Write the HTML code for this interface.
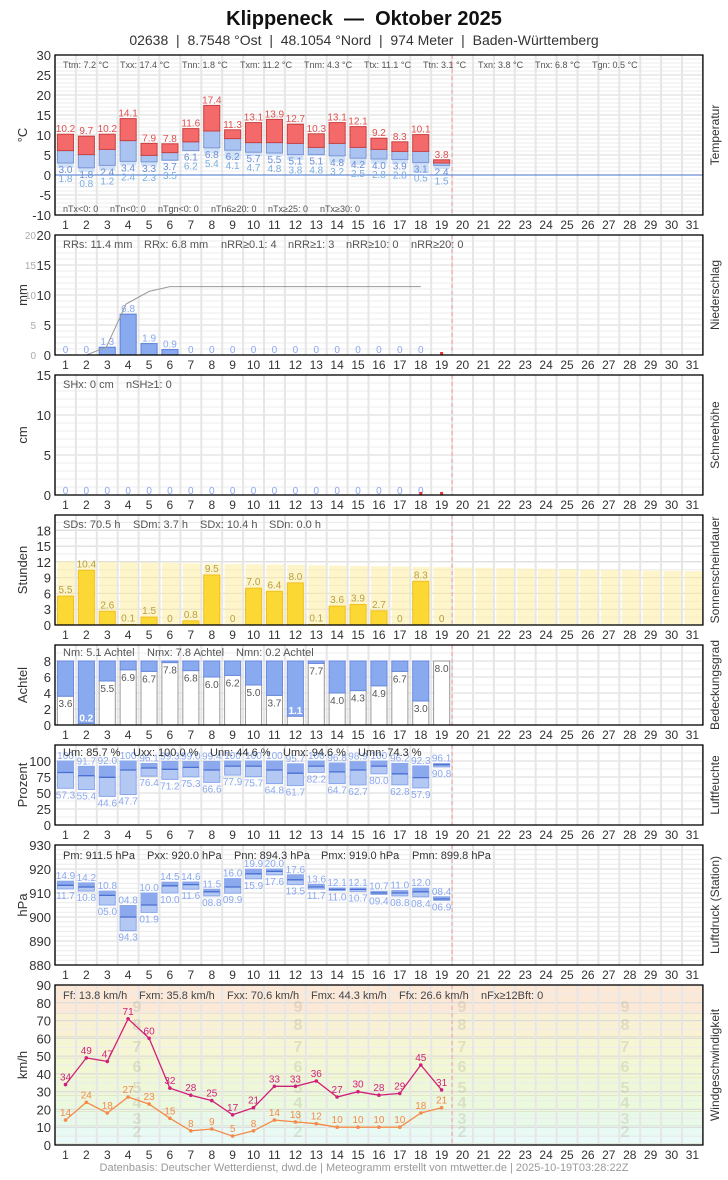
<!DOCTYPE html><html><head><meta charset="utf-8"><style>
body{margin:0;background:#fff;font-family:"Liberation Sans",sans-serif}
</style></head><body>
<svg id="s" width="728" height="1175" xmlns="http://www.w3.org/2000/svg" font-family="Liberation Sans, sans-serif">
<text x="364" y="25" text-anchor="middle" font-size="20" font-weight="bold" fill="#111" xml:space="preserve">Klippeneck &#160;— &#160;Oktober 2025</text>
<text x="364" y="45" text-anchor="middle" font-size="14" fill="#333" xml:space="preserve">02638 &#160;| &#160;8.7548 °Ost &#160;| &#160;48.1054 °Nord &#160;| &#160;974 Meter &#160;| &#160;Baden-Württemberg</text>
<text x="364" y="1171" text-anchor="middle" font-size="11" fill="#999">Datenbasis: Deutscher Wetterdienst, dwd.de | Meteogramm erstellt von mtwetter.de | 2025-10-19T03:28:22Z</text>
</svg>
<script>
var S=document.getElementById('s'),h='';
var L=55,W=20.9,R=L+31*W;
function cx(d){return L+(d-0.5)*W}
function bl(d){return L+(d-1)*W+2.4}
var BW=16.1;
function r(x,y,w,hh,f,st){if(hh<0){y+=hh;hh=-hh}h+='<rect x="'+x.toFixed(1)+'" y="'+y.toFixed(1)+'" width="'+w.toFixed(1)+'" height="'+Math.max(hh,0.5).toFixed(1)+'" fill="'+f+'"'+(st?' stroke="'+st+'" stroke-width="1"':'')+'/>'}
function t(x,y,s,sz,f,a,extra){h+='<text x="'+x.toFixed(1)+'" y="'+y.toFixed(1)+'" font-size="'+sz+'" fill="'+f+'" text-anchor="'+(a||'middle')+'"'+(extra||'')+'>'+s+'</text>'}
function ln(x1,y1,x2,y2,c,w,da){h+='<line x1="'+x1.toFixed(1)+'" y1="'+y1.toFixed(1)+'" x2="'+x2.toFixed(1)+'" y2="'+y2.toFixed(1)+'" stroke="'+c+'" stroke-width="'+(w||1)+'"'+(da?' stroke-dasharray="'+da+'"':'')+'/>'}
function panel(top,bot,ymin,ymax,ticks,minor,title,unit,daysY,bg){
  var f=function(v){return bot-(v-ymin)/(ymax-ymin)*(bot-top)};
  if(bg)bg(f);
  for(var v=ymin;v<=ymax+1e-9;v+=minor){var y=f(v);if(y>=top)ln(L,y,R,y,'#ececec',1)}
  ticks.forEach(function(v){var y=f(v);if(y>=top-0.5)ln(L,y,R,y,'#d8d8d8',1);t(51,y+5,v,13,'#333','end')});
  for(var d=0;d<=31;d++){ln(L+d*W,top,L+d*W,bot,'#e6e6e6',2)}
  ln(L+19*W,top,L+19*W,bot,'#f4a0a0',1,'4,3');
  t(0,0,title,12,'#333','middle',' transform="translate(719,'+((top+bot)/2)+') rotate(-90)"');
  t(0,0,unit,13,'#333','middle',' transform="translate(27,'+((top+bot)/2)+') rotate(-90)"');
  for(var d=1;d<=31;d++)t(cx(d),daysY,d,12,'#333');
  return f;
}
function frame(top,bot){h+='<rect x="'+L+'" y="'+top+'" width="'+(R-L)+'" height="'+(bot-top)+'" fill="none" stroke="#000" stroke-width="1.3"/>'}
// Temperature
var f=panel(55,215,-10,30,[30,25,20,15,10,5,0,-5,-10],1,'Temperatur','°C',229);
var Tx=[10.2,9.7,10.2,14.1,7.9,7.8,11.6,17.4,11.3,13.1,13.9,12.7,10.3,13.1,12.1,9.2,8.3,10.1,3.8];
var Tn=[3.0,1.8,2.4,3.4,3.3,3.7,6.1,6.8,6.2,5.7,5.5,5.1,5.1,4.8,4.2,4.0,3.9,3.1,2.4];
var Tg=[1.8,0.8,1.2,2.4,2.3,3.5,6.2,5.4,4.1,4.7,4.8,3.8,4.8,3.2,2.5,2.8,2.8,0.5,1.5];
var Tm=[6.1,5.1,6.4,8.6,4.9,5.6,8.3,11,9.1,8.1,8.1,7.9,6.9,7.9,6.9,6.4,5.9,5.9,3.0];
ln(L,f(0),R,f(0),'#6a8fd8',1.2);
for(var i=0;i<19;i++){var d=i+1,x=bl(d);
 r(x,f(Math.max(Tn[i],Tg[i])),BW,f(Math.min(Tn[i],Tg[i]))-f(Math.max(Tn[i],Tg[i])),'#cfe0f7');
 r(x,f(Tm[i]),BW,f(Tn[i])-f(Tm[i]),'#aac3f0','#7a98d8');
 r(x,f(Tx[i]),BW,f(Tm[i])-f(Tx[i]),'#f46a6a','#c94040');
 t(cx(d),f(Tx[i])-2,Tx[i].toFixed(1),10,'#e05050');
 t(cx(d),f(Tn[i])+10,Tn[i].toFixed(1),10,'#6a8fd8');
 t(cx(d),f(Tn[i])+19,Tg[i].toFixed(1),10,'#7aaee0');}
t(63,68,'Ttm: 7.2 °C',9,'#555','start');t(120,68,'Txx: 17.4 °C',9,'#555','start');t(182,68,'Tnn: 1.8 °C',9,'#555','start');t(240,68,'Txm: 11.2 °C',9,'#555','start');t(304,68,'Tnm: 4.3 °C',9,'#555','start');t(364,68,'Ttx: 11.1 °C',9,'#555','start');t(423,68,'Ttn: 3.1 °C',9,'#555','start');t(478,68,'Txn: 3.8 °C',9,'#555','start');t(535,68,'Tnx: 6.8 °C',9,'#555','start');t(592,68,'Tgn: 0.5 °C',9,'#555','start');
t(63,212,'nTx&lt;0: 0',9,'#555','start');t(110,212,'nTn&lt;0: 0',9,'#555','start');t(158,212,'nTgn&lt;0: 0',9,'#555','start');t(211,212,'nTn6≥20: 0',9,'#555','start');t(268,212,'nTx≥25: 0',9,'#555','start');t(320,212,'nTx≥30: 0',9,'#555','start');
frame(55,215);
// Precip
f=panel(235,355,0,20,[20,15,10,5,0],1,'Niederschlag','mm',369);
[20,15,10,5,0].forEach(function(v){t(36,f(v)+4,v,10,'#aaa','end')});
var P=[0,0,1.3,6.8,1.9,0.9,0,0,0,0,0,0,0,0,0,0,0,0];
for(var i=0;i<18;i++){var d=i+1;if(P[i]>0)r(bl(d),f(P[i]),BW,f(0)-f(P[i]),'#8aaaf0','#5a7fd8');t(cx(d),f(P[i])-2,P[i]>0?P[i].toFixed(1):'0',10,'#8aa8f0');}
h+='<polyline fill="none" stroke="#999" stroke-width="1" points="'+[[55,0],[cx(2),0],[cx(3)-1,1.3],[cx(4)-2,8.5],[cx(5),10.6],[cx(6),11.4],[cx(18),11.4]].map(function(p){return p[0].toFixed(1)+','+f(p[1]).toFixed(1)}).join(' ')+'"/>';
r(cx(19)-1.5,f(0)-3,3,3,'#e33');
t(63,248,'RRs: 11.4 mm',11,'#555','start');t(144,248,'RRx: 6.8 mm',11,'#555','start');t(221,248,'nRR≥0.1: 4',11,'#555','start');t(288,248,'nRR≥1: 3',11,'#555','start');t(346,248,'nRR≥10: 0',11,'#555','start');t(411,248,'nRR≥20: 0',11,'#555','start');
frame(235,355);
// Snow
f=panel(375,495,0,15,[15,10,5,0],1,'Schneehöhe','cm',509);
for(var d=1;d<=18;d++)t(cx(d),f(0)-1,'0',10,'#8aa8f0');
r(cx(18)-1.5,f(0)-3,3,3,'#e33');r(cx(19)-1.5,f(0)-3,3,3,'#e33');
t(63,388,'SHx: 0 cm',11,'#555','start');t(126,388,'nSH≥1: 0',11,'#555','start');
frame(375,495);
// Sunshine
f=panel(515,625,0,20.9,[18,15,12,9,6,3,0],1.5,'Sonnenscheindauer','Stunden',639);
var SD=[5.5,10.4,2.6,0.1,1.5,0,0.8,9.5,0,7.0,6.4,8.0,0.1,3.6,3.9,2.7,0,8.3,0];
for(var d=1;d<=31;d++){var p=12.1-(d-1)*0.062;r(bl(d),f(p),BW+1.5,f(0)-f(p),'rgba(253,236,160,0.55)')}
for(var i=0;i<19;i++){var d=i+1;if(SD[i]>0)r(bl(d),f(SD[i]),BW,f(0)-f(SD[i]),'#fcd835','#f0c020');t(cx(d),f(SD[i])-3,SD[i]>0?SD[i].toFixed(1):'0',10,'#b8a040');}
t(63,528,'SDs: 70.5 h',11,'#555','start');t(133,528,'SDm: 3.7 h',11,'#555','start');t(200,528,'SDx: 10.4 h',11,'#555','start');t(269,528,'SDn: 0.0 h',11,'#555','start');
frame(515,625);
// Cloud
f=panel(645,725,0,10,[8,6,4,2,0],1,'Bedeckungsgrad','Achtel',739);
var N=[3.6,0.2,5.5,6.9,6.7,7.8,6.8,6.0,6.2,5.0,3.7,1.1,7.7,4.0,4.3,4.9,6.7,3.0,8.0];
for(var i=0;i<19;i++){var d=i+1;r(bl(d),f(N[i]),BW,f(0)-f(N[i]),'#fff','#999');if(N[i]<8)r(bl(d),f(8),BW,f(N[i])-f(8),'#8aaaf0','#6a8ae0');
 if(N[i]<1.5)t(cx(d),f(N[i])-2,N[i].toFixed(1),10,'#fff','middle',' font-weight="bold"');
 else t(cx(d),f(N[i])+11,N[i].toFixed(1),10,'#555');}
t(63,656,'Nm: 5.1 Achtel',11,'#555','start');t(147,656,'Nmx: 7.8 Achtel',11,'#555','start');t(236,656,'Nmn: 0.2 Achtel',11,'#555','start');
frame(645,725);
// Humidity
f=panel(745,825,0,125,[100,75,50,25,0],12.5,'Luftfeuchte','Prozent',839);
var U=[[100,82,57.3],[91.7,77,55.4],[92.0,74.5,44.6],[100,86,47.7],[96.1,89,76.4],[99.3,87,71.2],[99.0,90,75.3],[99.4,86,66.6],[100,92,77.9],[100,92,75.7],[100,86,64.8],[95.7,81,61.7],[100,92,82.2],[96.8,83,64.7],[98.9,86,62.7],[100,92,80.0],[96.2,80,62.8],[92.3,74,57.9],[96.1,94,90.8]];
for(var i=0;i<19;i++){var d=i+1,u=U[i];r(bl(d),f(u[0]),BW,f(u[2])-f(u[0]),'#b4c8f4','#8aa8ec');r(bl(d),f(u[0]),BW,f(u[1])-f(u[0]),'#8ca9ee');ln(bl(d),f(u[1]),bl(d)+BW,f(u[1]),'#4a6fd0',1.3);
 t(cx(d),f(u[0])-2,u[0]==100?'100':u[0].toFixed(1),10,'#8aa8f0');t(cx(d),f(u[2])+10,u[2].toFixed(1),10,'#8aa8f0');}
t(63,756,'Um: 85.7 %',11,'#333','start');t(133,756,'Uxx: 100.0 %',11,'#333','start');t(210,756,'Unn: 44.6 %',11,'#333','start');t(283,756,'Umx: 94.6 %',11,'#333','start');t(358,756,'Umn: 74.3 %',11,'#333','start');
frame(745,825);
// Pressure
f=panel(845,965,880,930,[930,920,910,900,890,880],2,'Luftdruck (Station)','hPa',979);
var Pr=[[914.9,913.2,911.7],[914.2,912.5,910.8],[910.8,909,905.0],[904.8,900,894.3],[910.0,905,901.9],[914.5,913,910.0],[914.6,913.5,911.6],[911.5,910.5,908.8],[916.0,912.5,909.9],[919.9,918,915.9],[920.0,919,917.6],[917.6,915.5,913.5],[913.6,912.5,911.7],[912.1,911.5,911.0],[912.1,911.5,910.7],[910.7,910,909.4],[911.0,910,908.8],[912.0,910.5,908.4],[908.4,907.5,906.9]];
function pl(v){return ('0'+(v%100).toFixed(1)).slice(-4)}
for(var i=0;i<19;i++){var d=i+1,u=Pr[i];r(bl(d),f(u[0]),BW,f(u[2])-f(u[0]),'#b4c8f4','#8aa8ec');r(bl(d),f(u[0]),BW,f(u[1])-f(u[0]),'#8ca9ee');ln(bl(d),f(u[1]),bl(d)+BW,f(u[1]),'#4a6fd0',1.3);
 t(cx(d),f(u[0])-2,pl(u[0]),10,'#8aa8f0');t(cx(d),f(u[2])+10,pl(u[2]),10,'#8aa8f0');}
t(63,859,'Pm: 911.5 hPa',11,'#333','start');t(147,859,'Pxx: 920.0 hPa',11,'#333','start');t(234,859,'Pnn: 894.3 hPa',11,'#333','start');t(321,859,'Pmx: 919.0 hPa',11,'#333','start');t(412,859,'Pmn: 899.8 hPa',11,'#333','start');
frame(845,965);
// Wind
f=panel(985,1145,0,90,[90,80,70,60,50,40,30,20,10,0],5,'Windgeschwindigkeit','km/h',1159,function(g){
 var b=[[0,1,'#f2fcff'],[1,5,'#eafaf8'],[5,11,'#e8faf4'],[11,19,'#e8f9ea'],[19,28,'#ebf9dc'],[28,38,'#eef8d8'],[38,49,'#f2f7d4'],[49,61,'#f6f6d4'],[61,74,'#f9f1d4'],[74,90,'#fce8d6']];
 b.forEach(function(q){r(L,g(q[1]),R-L,g(q[0])-g(q[1]),q[2]);ln(L,g(q[1]),R,g(q[1]),'#d8d8c0',1)});
});
[[2,1131],[3,1118],[4,1102],[5,1087],[6,1066],[7,1046],[8,1024],[9,1006]].forEach(function(q){[137,298,462,625].forEach(function(x){t(x,q[1]+6,q[0],16,'rgba(160,160,120,0.25)','middle',' font-weight="bold"')})});
var G=[34,49,47,71,60,32,28,25,17,21,33,33,36,27,30,28,29,45,31],M=[14,24,18,27,23,15,8,9,5,8,14,13,12,10,10,10,10,18,21];
function series(a,c){h+='<polyline fill="none" stroke="'+c+'" stroke-width="1.3" points="'+a.map(function(v,i){return cx(i+1).toFixed(1)+','+f(v).toFixed(1)}).join(' ')+'"/>';
 a.forEach(function(v,i){h+='<circle cx="'+cx(i+1).toFixed(1)+'" cy="'+f(v).toFixed(1)+'" r="1.8" fill="'+c+'"/>';t(cx(i+1),f(v)-4,v,10,c)})}
series(M,'#f58a4a');series(G,'#d0207a');
t(63,999,'Ff: 13.8 km/h',11,'#444','start');t(139,999,'Fxm: 35.8 km/h',11,'#444','start');t(227,999,'Fxx: 70.6 km/h',11,'#444','start');t(311,999,'Fmx: 44.3 km/h',11,'#444','start');t(399,999,'Ffx: 26.6 km/h',11,'#444','start');t(481,999,'nFx≥12Bft: 0',11,'#444','start');
frame(985,1145);
S.insertAdjacentHTML('beforeend',h);
</script>
</body></html>
